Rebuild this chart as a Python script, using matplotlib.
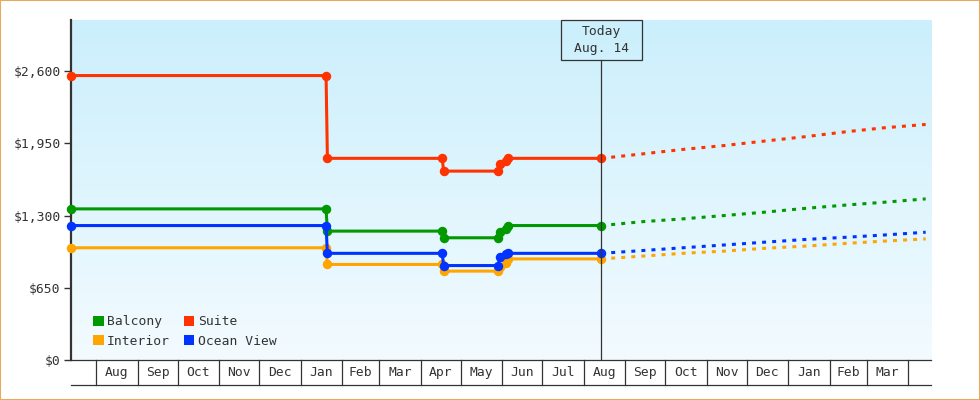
import datetime as dt
import numpy as np
import matplotlib
matplotlib.use("Agg")
import matplotlib.pyplot as plt
import matplotlib.dates as mdates
import matplotlib.transforms as mtrans
from matplotlib.patches import Patch, Rectangle

# price history (points joined by straight lines)
hist_dates = ["2021-07-13", "2022-01-20", "2022-01-21", "2022-04-17", "2022-04-18",
              "2022-05-29", "2022-05-30", "2022-06-04", "2022-06-05", "2022-08-14"]
suite_hist = [2560, 2560, 1815, 1815, 1700, 1700, 1760, 1790, 1815, 1815]
balcony_hist = [1360, 1360, 1160, 1160, 1100, 1100, 1150, 1180, 1210, 1210]
ocean_hist = [1210, 1210, 960, 960, 850, 850, 930, 955, 960, 960]
interior_hist = [1010, 1010, 860, 860, 800, 800, 840, 875, 910, 910]

# projected prices (dotted)
proj_dates = ["2022-08-14", "2022-09-14", "2022-10-14", "2022-11-14", "2022-12-14",
              "2023-01-14", "2023-02-14", "2023-03-14", "2023-04-14"]
suite_proj = [1815, 1855, 1895, 1930, 1970, 2010, 2055, 2090, 2120]
balcony_proj = [1210, 1245, 1270, 1300, 1330, 1365, 1395, 1420, 1450]
ocean_proj = [960, 985, 1010, 1035, 1060, 1085, 1105, 1125, 1150]
interior_proj = [910, 935, 960, 980, 1005, 1025, 1050, 1070, 1090]

y_ticks = [0, 650, 1300, 1950, 2600]
today = "2022-08-14"
today_label = "Today\nAug. 14"
x_start, x_end = "2021-07-13", "2023-04-18"

series = [
    ("Balcony", balcony_hist, balcony_proj, "#009900"),
    ("Interior", interior_hist, interior_proj, "#ffa500"),
    ("Suite", suite_hist, suite_proj, "#ff3300"),
    ("Ocean View", ocean_hist, ocean_proj, "#0033ff"),
]

FONT = "DejaVu Sans Mono"
FS = 9.4
DARK = "#333333"


def to_dt(lst):
    return [dt.datetime.strptime(s, "%Y-%m-%d") for s in lst]


fig = plt.figure(figsize=(9.8, 4), dpi=100)
ax = fig.add_axes([71 / 980, 40 / 400, 860 / 980, 340 / 400])

# gradient background
top = np.array([203, 239, 252]) / 255
bot = np.array([243, 251, 255]) / 255
t = np.linspace(0, 1, 256)[:, None]
grad = (top * (1 - t) + bot * t)[:, None, :]
ax.imshow(grad, extent=[0, 1, 0, 1], transform=ax.transAxes, aspect="auto", zorder=0)

hd = to_dt(hist_dates)
pd_ = to_dt(proj_dates)
for name, hv, pv, col in series:
    ax.plot(hd, hv, color=col, lw=2.2, marker="o", ms=5.8, clip_on=False, zorder=3)
    ax.plot(pd_, pv, color=col, lw=2.2, linestyle=(0, (1.3, 2.0)), zorder=3)

ax.set_xlim(to_dt([x_start])[0], to_dt([x_end])[0])
ax.set_ylim(0, 3060)

# today marker
tdate = to_dt([today])[0]
box_h = 40 / 340
ax.plot([tdate, tdate], [0, 1 - box_h], transform=ax.get_xaxis_transform(),
        color=DARK, lw=0.9, zorder=4)
anchor = mtrans.ScaledTranslation(mdates.date2num(tdate), 1.0, ax.get_xaxis_transform())
ax.add_patch(Rectangle((-0.405, -0.40), 0.81, 0.40, transform=fig.dpi_scale_trans + anchor,
                       facecolor="none", edgecolor=DARK, lw=0.9, clip_on=False, zorder=5))
ax.text(tdate, 1 - box_h / 2, today_label, transform=ax.get_xaxis_transform(),
        ha="center", va="center", family=FONT, fontsize=FS, color=DARK,
        linespacing=1.35, zorder=6)

# y axis
ax.set_yticks(y_ticks)
ax.set_yticklabels(["${:,}".format(v) for v in y_ticks], family=FONT, fontsize=FS, color=DARK)
ax.tick_params(axis="y", length=5, width=1, color=DARK, pad=2.5)
ax.set_xticks([])
for s in ["top", "right"]:
    ax.spines[s].set_visible(False)
ax.spines["left"].set_color(DARK)
ax.spines["left"].set_linewidth(1.6)
ax.spines["bottom"].set_color(DARK)
ax.spines["bottom"].set_linewidth(0.9)

# month cells below the axis
xt = ax.get_xaxis_transform()
cell = 25 / 340
month_starts = []
d = dt.datetime(2021, 8, 1)
while d <= to_dt([x_end])[0]:
    month_starts.append(d)
    d = dt.datetime(d.year + (d.month == 12), d.month % 12 + 1, 1)
for m in month_starts:
    ax.plot([m, m], [0, -cell], transform=xt, color=DARK, lw=0.9, clip_on=False)
for a, b in zip(month_starts[:-1], month_starts[1:]):
    mid = a + (b - a) / 2
    ax.text(mid, -cell / 2, a.strftime("%b"), transform=xt, ha="center", va="center",
            family=FONT, fontsize=FS, color=DARK)
ax.plot([0, 1], [-cell, -cell], transform=ax.transAxes, color=DARK, lw=0.9, clip_on=False)

# legend
handles = [Patch(facecolor=c, edgecolor="none", label=n) for n, _, _, c in series]
ax.legend(handles=handles, ncol=2, loc="lower left", bbox_to_anchor=(0.026, 0.036),
          frameon=False, borderpad=0, borderaxespad=0, handlelength=0.78, handleheight=0.78,
          handletextpad=0.28, columnspacing=1.05, labelspacing=0.5,
          prop={"family": FONT, "size": FS}, labelcolor=DARK)

# outer border
fig.add_artist(Rectangle((0, 0), 1, 1, transform=fig.transFigure, fill=False,
                         edgecolor="#e8a860", lw=1.5))

fig.savefig("out.png", dpi=100)
